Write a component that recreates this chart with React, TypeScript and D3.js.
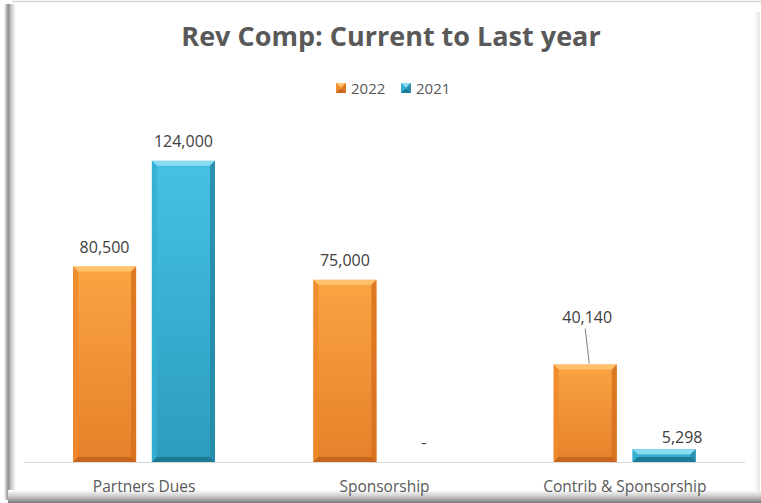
import React from "react";
import * as d3 from "d3";

const categories = ["Partners Dues", "Sponsorship", "Contrib & Sponsorship"];
const seriesNames = ["2022", "2021"];
const values2022 = [80500, 75000, 40140];
const values2021 = [124000, 0, 5298];
const chartTitle = "Rev Comp: Current to Last year";

const W = 761;
const H = 503;
const FONT = "'Open Sans', 'Noto Sans', sans-serif";

const palette = {
  "2022": { top: "#FFC16B", light: "#FAA443", dark: "#E5802A", side: "#EE8A2C", sideR: "#D8711E", bottom: "#C2631B" },
  "2021": { top: "#8ADCF2", light: "#45C1E4", dark: "#2C9CBD", side: "#34AFD4", sideR: "#2589A8", bottom: "#1E7590" },
};

// label position adjustments (dx, dy relative to default, leader line)
const labelOffsets: Record<string, [number, number, boolean]> = {
  "2022-2": [2, -28, true],
  "2021-2": [18, 8, false],
};

function fmt(v: number) {
  return v === 0 ? "-" : d3.format(",")(v);
}

function BevelBar({ x, y, w, h, c, id }: any) {
  const b = Math.min(5, h / 2.5);
  return (
    <g>
      <rect x={x} y={y} width={w} height={h} fill={`url(#grad-${id})`} />
      <polygon points={`${x},${y} ${x + w},${y} ${x + w - b},${y + b} ${x + b},${y + b}`} fill={c.top} />
      <polygon points={`${x},${y} ${x + b},${y + b} ${x + b},${y + h - b} ${x},${y + h}`} fill={c.side} opacity={0.85} />
      <polygon points={`${x + w},${y} ${x + w - b},${y + b} ${x + w - b},${y + h - b} ${x + w},${y + h}`} fill={c.sideR} opacity={0.85} />
      <polygon points={`${x},${y + h} ${x + b},${y + h - b} ${x + w - b},${y + h - b} ${x + w},${y + h}`} fill={c.bottom} opacity={0.9} />
    </g>
  );
}

export default function App() {
  const x0 = d3.scaleBand<string>().domain(categories).range([24, 745]).paddingInner(0).paddingOuter(0);
  const x1 = d3.scaleBand<string>().domain(seriesNames).range([49, 191]).paddingInner(0.2).paddingOuter(0);
  const y = d3.scaleLinear().domain([0, 140000]).range([462, 122]);
  const series = [
    { name: "2022", values: values2022 },
    { name: "2021", values: values2021 },
  ];

  return (
    <svg width={W} height={H} style={{ position: "absolute", left: 0, top: 0, display: "block", background: "#fff" }}>
      <defs>
        {series.map((s) => (
          <linearGradient key={s.name} id={`grad-${s.name}`} x1="0" y1="0" x2="0" y2="1">
            <stop offset="0%" stopColor={(palette as any)[s.name].light} />
            <stop offset="100%" stopColor={(palette as any)[s.name].dark} />
          </linearGradient>
        ))}
        <linearGradient id="shadowL" x1="0" y1="0" x2="1" y2="0">
          <stop offset="0%" stopColor="#ffffff" />
          <stop offset="35%" stopColor="#8c8c8c" />
          <stop offset="60%" stopColor="#c8c8c8" />
          <stop offset="100%" stopColor="#ffffff" />
        </linearGradient>
        <linearGradient id="shadowB" x1="0" y1="0" x2="0" y2="1">
          <stop offset="0%" stopColor="#ffffff" />
          <stop offset="45%" stopColor="#d0d0d0" />
          <stop offset="100%" stopColor="#7a7a7a" />
        </linearGradient>
        <linearGradient id="shadowR" x1="0" y1="0" x2="1" y2="0">
          <stop offset="0%" stopColor="#ffffff" />
          <stop offset="100%" stopColor="#e6e6e6" />
        </linearGradient>
      </defs>
      <rect x={0} y={0} width={W} height={H} fill="#fff" />
      {/* frame */}
      <line x1={12} x2={761} y1={1.5} y2={1.5} stroke="#d9d9d9" strokeWidth={1.5} />
      <rect x={4} y={4} width={12} height={496} fill="url(#shadowL)" />
      <rect x={8} y={490} width={753} height={13} fill="url(#shadowB)" />
      <rect x={754} y={12} width={6} height={480} fill="url(#shadowR)" />

      {/* title */}
      <text x={391} y={46} textAnchor="middle" fontFamily={FONT} fontWeight={700} fontSize={27} fill="#595959">
        {chartTitle}
      </text>

      {/* legend */}
      {series.map((s, i) => {
        const lx = 336 + i * 65;
        const c = (palette as any)[s.name];
        return (
          <g key={s.name}>
            <BevelBar x={lx} y={83} w={10} h={10} c={c} id={s.name} />
            <text x={lx + 15} y={93.5} fontFamily={FONT} fontSize={15} fill="#595959">
              {s.name}
            </text>
          </g>
        );
      })}

      {/* axis line */}
      <line x1={24} x2={745} y1={y(0) + 0.5} y2={y(0) + 0.5} stroke="#d9d9d9" strokeWidth={1} />

      {/* bars */}
      {categories.map((cat, ci) => (
        <g key={cat}>
          {series.map((s, si) => {
            const v = s.values[ci];
            const bx = (x0(cat) as number) + (x1(s.name) as number);
            const bw = x1.bandwidth();
            const by = y(v);
            const bh = y(0) - y(v);
            const c = (palette as any)[s.name];
            const off = labelOffsets[`${s.name}-${ci}`] || [0, 0, false];
            const lx = bx + bw / 2 + off[0];
            const ly = by - 14 + off[1];
            return (
              <g key={s.name}>
                {bh > 0 && <BevelBar x={bx} y={by} w={bw} h={bh} c={c} id={s.name} />}
                {off[2] && (
                  <line x1={lx - 2} y1={ly + 6} x2={lx + 2} y2={by - 1} stroke="#7f7f7f" strokeWidth={1} />
                )}
                <text x={lx} y={ly} textAnchor="middle" fontFamily={FONT} fontSize={16} fill="#404040">
                  {fmt(v)}
                </text>
              </g>
            );
          })}
          <text
            x={(x0(cat) as number) + x0.bandwidth() / 2}
            y={492}
            textAnchor="middle"
            fontFamily={FONT}
            fontSize={15.5}
            fill="#595959"
          >
            {cat}
          </text>
        </g>
      ))}
    </svg>
  );
}
